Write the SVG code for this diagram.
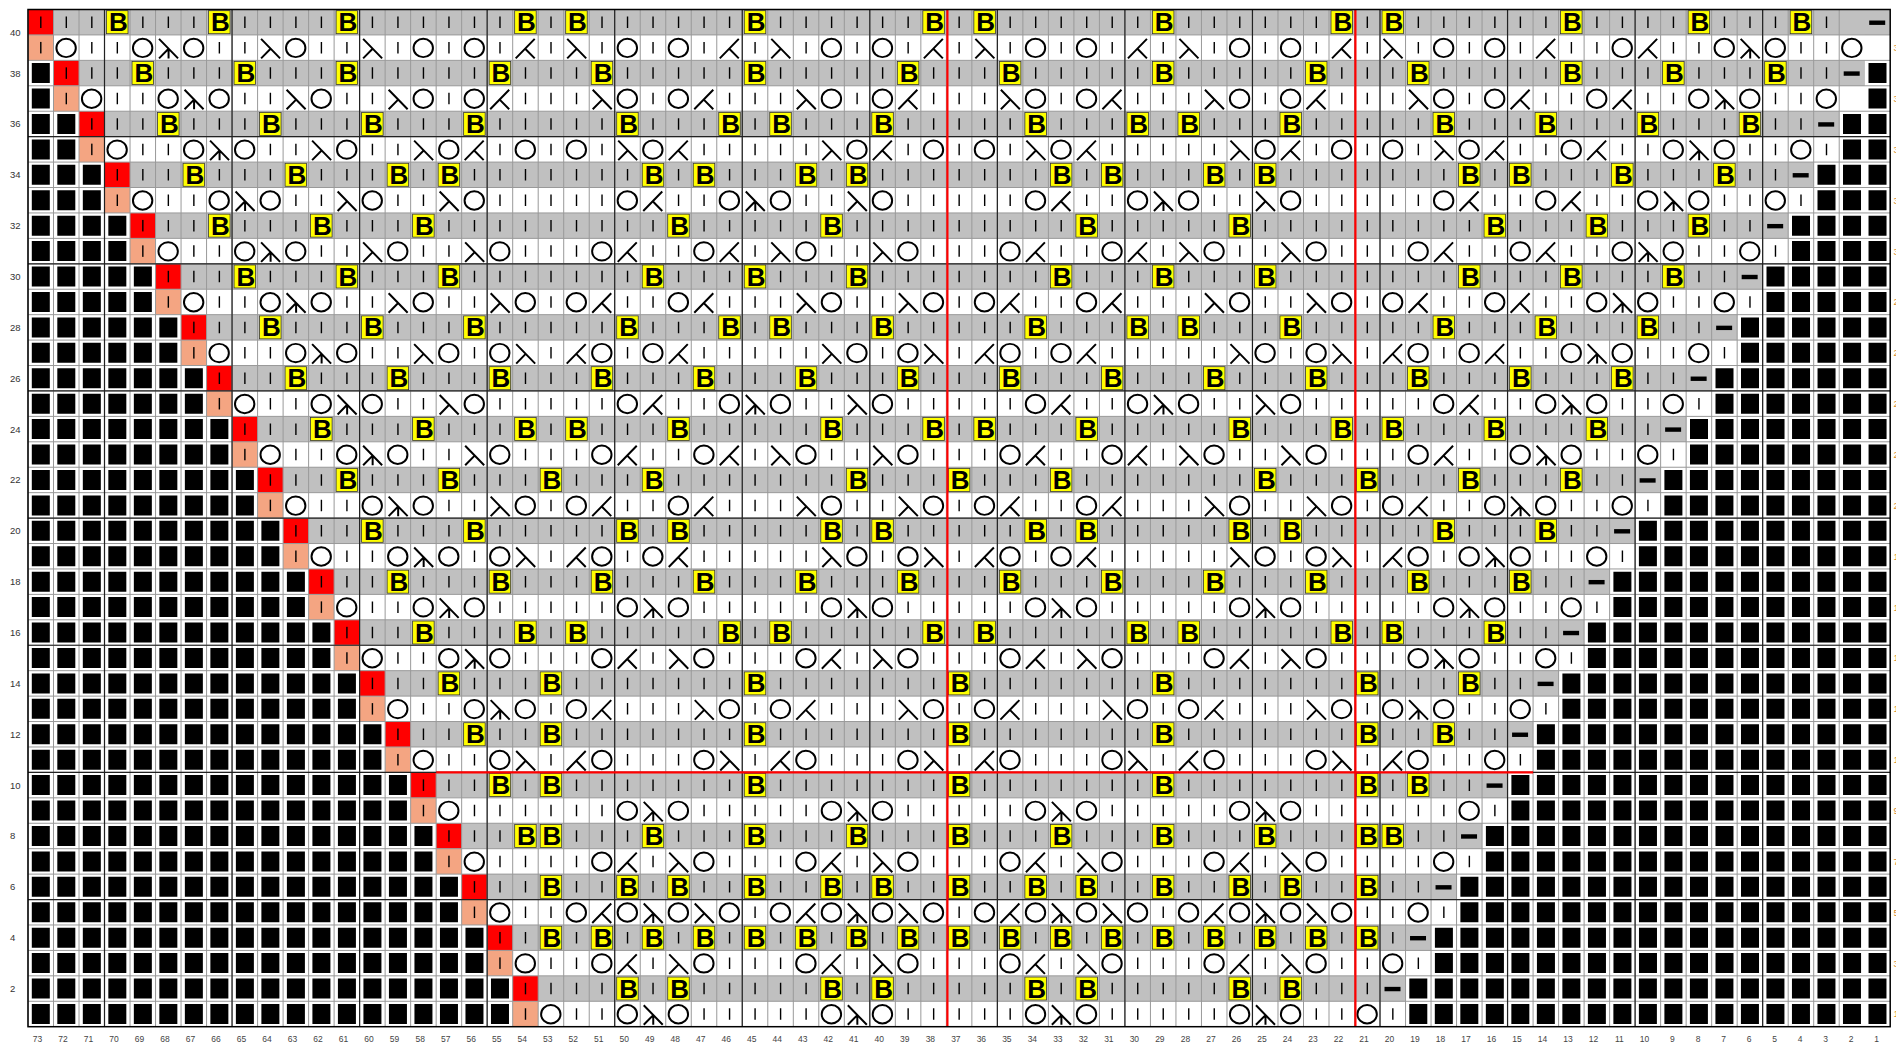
<svg xmlns="http://www.w3.org/2000/svg" width="1896" height="1043" viewBox="0 0 1896 1043">
<style>
.lab{font-family:"Liberation Sans",Arial,sans-serif;font-size:9.5px;fill:#333}
.col{font-family:"Liberation Sans",Arial,sans-serif;font-size:8.5px;fill:#444;text-anchor:end}
.rl{font-family:"Liberation Sans",Arial,sans-serif;font-size:9.5px;fill:#d98c2b}
.sy{fill:none;stroke:#000;stroke-width:0.078}
</style>
<defs>
<g id="o"><rect width="1" height="1" fill="#fff"/><ellipse cx="0.494" cy="0.511" rx="0.38" ry="0.362" class="sy"/></g>
<g id="l"><rect width="1" height="1" fill="#fff"/><path d="M0.137 0.157L0.882 0.924M0.51 0.543L0.137 0.924" class="sy"/></g>
<g id="k"><rect width="1" height="1" fill="#fff"/><path d="M0.863 0.157L0.118 0.924M0.49 0.543L0.863 0.924" class="sy"/></g>
<g id="c"><rect width="1" height="1" fill="#fff"/><path d="M0.137 0.157L0.882 0.924M0.51 0.543L0.137 0.924M0.51 0.543V0.924" class="sy"/></g>
<g id="b"><rect x="0.078" y="0.047" width="0.843" height="0.905" fill="#ff0" stroke="#333" stroke-width="0.03"/><text transform="scale(0.0392,0.03932)" x="13.8" y="21.7" font-family="'Liberation Sans',Arial,sans-serif" font-weight="bold" font-size="26" text-anchor="middle">B</text></g>
<g id="d"><rect width="1" height="1" fill="#c0c0c0"/><rect x="0.176" y="0.433" width="0.627" height="0.173"/></g>
<g id="r"><rect width="1" height="1" fill="#f00"/><rect x="0.474" y="0.275" width="0.055" height="0.452"/></g>
<g id="s"><rect width="1" height="1" fill="#f4a582"/><rect x="0.474" y="0.275" width="0.055" height="0.452"/></g>
</defs>
<rect width="1896" height="1043" fill="#fff"/>
<path id="grayrows" fill="none" stroke="#c0c0c0" stroke-width="25.43" d="M28 22.2H1890.2M53.5 73.1H1864.7M79 123.9H1839.2M104.5 174.8H1813.7M130 225.7H1788.2M155.6 276.5H1762.7M181.1 327.4H1737.2M206.6 378.2H1711.7M232.1 429.1H1686.2M257.6 480H1660.6M283.1 530.8H1635.1M308.6 581.7H1609.6M334.1 632.5H1584.1M359.6 683.4H1558.6M385.1 734.3H1533.1M410.7 785.1H1507.6M436.2 836H1482.1M461.7 886.8H1456.6M487.2 937.7H1431.1M512.7 988.6H1405.5"/>
<path id="knitbars" fill="none" stroke="#000" stroke-width="1.4" stroke-dasharray="11.5 13.93" d="M40.8 16.5v1011m25.51-1011v1011m25.51-1011v1011m25.51-1011v1011m25.51-1011v1011m25.51-1011v1011m25.51-1011v1011m25.51-1011v1011m25.51-1011v1011m25.51-1011v1011m25.51-1011v1011m25.51-1011v1011m25.51-1011v1011m25.51-1011v1011m25.51-1011v1011m25.51-1011v1011m25.51-1011v1011m25.51-1011v1011m25.51-1011v1011m25.51-1011v1011m25.51-1011v1011m25.51-1011v1011m25.51-1011v1011m25.51-1011v1011m25.51-1011v1011m25.51-1011v1011m25.51-1011v1011m25.51-1011v1011m25.51-1011v1011m25.51-1011v1011m25.51-1011v1011m25.51-1011v1011m25.51-1011v1011m25.51-1011v1011m25.51-1011v1011m25.51-1011v1011m25.51-1011v1011m25.51-1011v1011m25.51-1011v1011m25.51-1011v1011m25.51-1011v1011m25.51-1011v1011m25.51-1011v1011m25.51-1011v1011m25.51-1011v1011m25.51-1011v1011m25.51-1011v1011m25.51-1011v1011m25.51-1011v1011m25.51-1011v1011m25.51-1011v1011m25.51-1011v1011m25.51-1011v1011m25.51-1011v1011m25.51-1011v1011m25.51-1011v1011m25.51-1011v1011m25.51-1011v1011m25.51-1011v1011m25.51-1011v1011m25.51-1011v1011m25.51-1011v1011m25.51-1011v1011m25.51-1011v1011m25.51-1011v1011m25.51-1011v1011m25.51-1011v1011m25.51-1011v1011m25.51-1011v1011m25.51-1011v1011m25.51-1011v1011"/>
<path id="blackcells" fill="none" stroke="#000" stroke-width="20" stroke-dasharray="18 7.51" d="M31.8 73.1H53.5M1868.5 73.1H1890.2M31.8 98.5H53.5M1868.5 98.5H1890.2M31.8 123.9H79M1843 123.9H1890.2M31.8 149.4H79M1843 149.4H1890.2M31.8 174.8H104.5M1817.5 174.8H1890.2M31.8 200.2H104.5M1817.5 200.2H1890.2M31.8 225.7H130M1792 225.7H1890.2M31.8 251.1H130M1792 251.1H1890.2M31.8 276.5H155.6M1766.5 276.5H1890.2M31.8 301.9H155.6M1766.5 301.9H1890.2M31.8 327.4H181.1M1741 327.4H1890.2M31.8 352.8H181.1M1741 352.8H1890.2M31.8 378.2H206.6M1715.5 378.2H1890.2M31.8 403.7H206.6M1715.5 403.7H1890.2M31.8 429.1H232.1M1690 429.1H1890.2M31.8 454.5H232.1M1690 454.5H1890.2M31.8 480H257.6M1664.4 480H1890.2M31.8 505.4H257.6M1664.4 505.4H1890.2M31.8 530.8H283.1M1638.9 530.8H1890.2M31.8 556.2H283.1M1638.9 556.2H1890.2M31.8 581.7H308.6M1613.4 581.7H1890.2M31.8 607.1H308.6M1613.4 607.1H1890.2M31.8 632.5H334.1M1587.9 632.5H1890.2M31.8 658H334.1M1587.9 658H1890.2M31.8 683.4H359.6M1562.4 683.4H1890.2M31.8 708.8H359.6M1562.4 708.8H1890.2M31.8 734.3H385.1M1536.9 734.3H1890.2M31.8 759.7H385.1M1536.9 759.7H1890.2M31.8 785.1H410.7M1511.4 785.1H1890.2M31.8 810.5H410.7M1511.4 810.5H1890.2M31.8 836H436.2M1485.9 836H1890.2M31.8 861.4H436.2M1485.9 861.4H1890.2M31.8 886.8H461.7M1460.4 886.8H1890.2M31.8 912.3H461.7M1460.4 912.3H1890.2M31.8 937.7H487.2M1434.9 937.7H1890.2M31.8 963.1H487.2M1434.9 963.1H1890.2M31.8 988.6H512.7M1409.3 988.6H1890.2M31.8 1014H512.7M1409.3 1014H1890.2"/>
<g id="cells" transform="matrix(25.51 0 0 25.43 28 9.5)">
<g id="row40"><use href="#r" x="0"/><use href="#b" x="3"/><use href="#b" x="7"/><use href="#b" x="12"/><use href="#b" x="19"/><use href="#b" x="21"/><use href="#b" x="28"/><use href="#b" x="35"/><use href="#b" x="37"/><use href="#b" x="44"/><use href="#b" x="51"/><use href="#b" x="53"/><use href="#b" x="60"/><use href="#b" x="65"/><use href="#b" x="69"/><use href="#d" x="72"/></g>
<g id="row39" transform="translate(0,1)"><use href="#s" x="0"/><use href="#o" x="1"/><use href="#o" x="4"/><use href="#c" x="5"/><use href="#o" x="6"/><use href="#l" x="9"/><use href="#o" x="10"/><use href="#l" x="13"/><use href="#o" x="15"/><use href="#o" x="17"/><use href="#k" x="19"/><use href="#l" x="21"/><use href="#o" x="23"/><use href="#o" x="25"/><use href="#k" x="27"/><use href="#l" x="29"/><use href="#o" x="31"/><use href="#o" x="33"/><use href="#k" x="35"/><use href="#l" x="37"/><use href="#o" x="39"/><use href="#o" x="41"/><use href="#k" x="43"/><use href="#l" x="45"/><use href="#o" x="47"/><use href="#o" x="49"/><use href="#k" x="51"/><use href="#l" x="53"/><use href="#o" x="55"/><use href="#o" x="57"/><use href="#k" x="59"/><use href="#o" x="62"/><use href="#k" x="63"/><use href="#o" x="66"/><use href="#c" x="67"/><use href="#o" x="68"/><use href="#o" x="71"/></g>
<g id="row38" transform="translate(0,2)"><use href="#r" x="1"/><use href="#b" x="4"/><use href="#b" x="8"/><use href="#b" x="12"/><use href="#b" x="18"/><use href="#b" x="22"/><use href="#b" x="28"/><use href="#b" x="34"/><use href="#b" x="38"/><use href="#b" x="44"/><use href="#b" x="50"/><use href="#b" x="54"/><use href="#b" x="60"/><use href="#b" x="64"/><use href="#b" x="68"/><use href="#d" x="71"/></g>
<g id="row37" transform="translate(0,3)"><use href="#s" x="1"/><use href="#o" x="2"/><use href="#o" x="5"/><use href="#c" x="6"/><use href="#o" x="7"/><use href="#l" x="10"/><use href="#o" x="11"/><use href="#l" x="14"/><use href="#o" x="15"/><use href="#o" x="17"/><use href="#k" x="18"/><use href="#l" x="22"/><use href="#o" x="23"/><use href="#o" x="25"/><use href="#k" x="26"/><use href="#l" x="30"/><use href="#o" x="31"/><use href="#o" x="33"/><use href="#k" x="34"/><use href="#l" x="38"/><use href="#o" x="39"/><use href="#o" x="41"/><use href="#k" x="42"/><use href="#l" x="46"/><use href="#o" x="47"/><use href="#o" x="49"/><use href="#k" x="50"/><use href="#l" x="54"/><use href="#o" x="55"/><use href="#o" x="57"/><use href="#k" x="58"/><use href="#o" x="61"/><use href="#k" x="62"/><use href="#o" x="65"/><use href="#c" x="66"/><use href="#o" x="67"/><use href="#o" x="70"/></g>
<g id="row36" transform="translate(0,4)"><use href="#r" x="2"/><use href="#b" x="5"/><use href="#b" x="9"/><use href="#b" x="13"/><use href="#b" x="17"/><use href="#b" x="23"/><use href="#b" x="27"/><use href="#b" x="29"/><use href="#b" x="33"/><use href="#b" x="39"/><use href="#b" x="43"/><use href="#b" x="45"/><use href="#b" x="49"/><use href="#b" x="55"/><use href="#b" x="59"/><use href="#b" x="63"/><use href="#b" x="67"/><use href="#d" x="70"/></g>
<g id="row35" transform="translate(0,5)"><use href="#s" x="2"/><use href="#o" x="3"/><use href="#o" x="6"/><use href="#c" x="7"/><use href="#o" x="8"/><use href="#l" x="11"/><use href="#o" x="12"/><use href="#l" x="15"/><use href="#o" x="16"/><use href="#k" x="17"/><use href="#o" x="19"/><use href="#o" x="21"/><use href="#l" x="23"/><use href="#o" x="24"/><use href="#k" x="25"/><use href="#l" x="31"/><use href="#o" x="32"/><use href="#k" x="33"/><use href="#o" x="35"/><use href="#o" x="37"/><use href="#l" x="39"/><use href="#o" x="40"/><use href="#k" x="41"/><use href="#l" x="47"/><use href="#o" x="48"/><use href="#k" x="49"/><use href="#o" x="51"/><use href="#o" x="53"/><use href="#l" x="55"/><use href="#o" x="56"/><use href="#k" x="57"/><use href="#o" x="60"/><use href="#k" x="61"/><use href="#o" x="64"/><use href="#c" x="65"/><use href="#o" x="66"/><use href="#o" x="69"/></g>
<g id="row34" transform="translate(0,6)"><use href="#r" x="3"/><use href="#b" x="6"/><use href="#b" x="10"/><use href="#b" x="14"/><use href="#b" x="16"/><use href="#b" x="24"/><use href="#b" x="26"/><use href="#b" x="30"/><use href="#b" x="32"/><use href="#b" x="40"/><use href="#b" x="42"/><use href="#b" x="46"/><use href="#b" x="48"/><use href="#b" x="56"/><use href="#b" x="58"/><use href="#b" x="62"/><use href="#b" x="66"/><use href="#d" x="69"/></g>
<g id="row33" transform="translate(0,7)"><use href="#s" x="3"/><use href="#o" x="4"/><use href="#o" x="7"/><use href="#c" x="8"/><use href="#o" x="9"/><use href="#l" x="12"/><use href="#o" x="13"/><use href="#l" x="16"/><use href="#o" x="17"/><use href="#o" x="23"/><use href="#k" x="24"/><use href="#o" x="27"/><use href="#c" x="28"/><use href="#o" x="29"/><use href="#l" x="32"/><use href="#o" x="33"/><use href="#o" x="39"/><use href="#k" x="40"/><use href="#o" x="43"/><use href="#c" x="44"/><use href="#o" x="45"/><use href="#l" x="48"/><use href="#o" x="49"/><use href="#o" x="55"/><use href="#k" x="56"/><use href="#o" x="59"/><use href="#k" x="60"/><use href="#o" x="63"/><use href="#c" x="64"/><use href="#o" x="65"/><use href="#o" x="68"/></g>
<g id="row32" transform="translate(0,8)"><use href="#r" x="4"/><use href="#b" x="7"/><use href="#b" x="11"/><use href="#b" x="15"/><use href="#b" x="25"/><use href="#b" x="31"/><use href="#b" x="41"/><use href="#b" x="47"/><use href="#b" x="57"/><use href="#b" x="61"/><use href="#b" x="65"/><use href="#d" x="68"/></g>
<g id="row31" transform="translate(0,9)"><use href="#s" x="4"/><use href="#o" x="5"/><use href="#o" x="8"/><use href="#c" x="9"/><use href="#o" x="10"/><use href="#l" x="13"/><use href="#o" x="14"/><use href="#l" x="17"/><use href="#o" x="18"/><use href="#o" x="22"/><use href="#k" x="23"/><use href="#o" x="26"/><use href="#k" x="27"/><use href="#l" x="29"/><use href="#o" x="30"/><use href="#l" x="33"/><use href="#o" x="34"/><use href="#o" x="38"/><use href="#k" x="39"/><use href="#o" x="42"/><use href="#k" x="43"/><use href="#l" x="45"/><use href="#o" x="46"/><use href="#l" x="49"/><use href="#o" x="50"/><use href="#o" x="54"/><use href="#k" x="55"/><use href="#o" x="58"/><use href="#k" x="59"/><use href="#o" x="62"/><use href="#c" x="63"/><use href="#o" x="64"/><use href="#o" x="67"/></g>
<g id="row30" transform="translate(0,10)"><use href="#r" x="5"/><use href="#b" x="8"/><use href="#b" x="12"/><use href="#b" x="16"/><use href="#b" x="24"/><use href="#b" x="28"/><use href="#b" x="32"/><use href="#b" x="40"/><use href="#b" x="44"/><use href="#b" x="48"/><use href="#b" x="56"/><use href="#b" x="60"/><use href="#b" x="64"/><use href="#d" x="67"/></g>
<g id="row29" transform="translate(0,11)"><use href="#s" x="5"/><use href="#o" x="6"/><use href="#o" x="9"/><use href="#c" x="10"/><use href="#o" x="11"/><use href="#l" x="14"/><use href="#o" x="15"/><use href="#l" x="18"/><use href="#o" x="19"/><use href="#o" x="21"/><use href="#k" x="22"/><use href="#o" x="25"/><use href="#k" x="26"/><use href="#l" x="30"/><use href="#o" x="31"/><use href="#l" x="34"/><use href="#o" x="35"/><use href="#o" x="37"/><use href="#k" x="38"/><use href="#o" x="41"/><use href="#k" x="42"/><use href="#l" x="46"/><use href="#o" x="47"/><use href="#l" x="50"/><use href="#o" x="51"/><use href="#o" x="53"/><use href="#k" x="54"/><use href="#o" x="57"/><use href="#k" x="58"/><use href="#o" x="61"/><use href="#c" x="62"/><use href="#o" x="63"/><use href="#o" x="66"/></g>
<g id="row28" transform="translate(0,12)"><use href="#r" x="6"/><use href="#b" x="9"/><use href="#b" x="13"/><use href="#b" x="17"/><use href="#b" x="23"/><use href="#b" x="27"/><use href="#b" x="29"/><use href="#b" x="33"/><use href="#b" x="39"/><use href="#b" x="43"/><use href="#b" x="45"/><use href="#b" x="49"/><use href="#b" x="55"/><use href="#b" x="59"/><use href="#b" x="63"/><use href="#d" x="66"/></g>
<g id="row27" transform="translate(0,13)"><use href="#s" x="6"/><use href="#o" x="7"/><use href="#o" x="10"/><use href="#c" x="11"/><use href="#o" x="12"/><use href="#l" x="15"/><use href="#o" x="16"/><use href="#o" x="18"/><use href="#l" x="19"/><use href="#k" x="21"/><use href="#o" x="22"/><use href="#o" x="24"/><use href="#k" x="25"/><use href="#l" x="31"/><use href="#o" x="32"/><use href="#o" x="34"/><use href="#l" x="35"/><use href="#k" x="37"/><use href="#o" x="38"/><use href="#o" x="40"/><use href="#k" x="41"/><use href="#l" x="47"/><use href="#o" x="48"/><use href="#o" x="50"/><use href="#l" x="51"/><use href="#k" x="53"/><use href="#o" x="54"/><use href="#o" x="56"/><use href="#k" x="57"/><use href="#o" x="60"/><use href="#c" x="61"/><use href="#o" x="62"/><use href="#o" x="65"/></g>
<g id="row26" transform="translate(0,14)"><use href="#r" x="7"/><use href="#b" x="10"/><use href="#b" x="14"/><use href="#b" x="18"/><use href="#b" x="22"/><use href="#b" x="26"/><use href="#b" x="30"/><use href="#b" x="34"/><use href="#b" x="38"/><use href="#b" x="42"/><use href="#b" x="46"/><use href="#b" x="50"/><use href="#b" x="54"/><use href="#b" x="58"/><use href="#b" x="62"/><use href="#d" x="65"/></g>
<g id="row25" transform="translate(0,15)"><use href="#s" x="7"/><use href="#o" x="8"/><use href="#o" x="11"/><use href="#c" x="12"/><use href="#o" x="13"/><use href="#l" x="16"/><use href="#o" x="17"/><use href="#o" x="23"/><use href="#k" x="24"/><use href="#o" x="27"/><use href="#c" x="28"/><use href="#o" x="29"/><use href="#l" x="32"/><use href="#o" x="33"/><use href="#o" x="39"/><use href="#k" x="40"/><use href="#o" x="43"/><use href="#c" x="44"/><use href="#o" x="45"/><use href="#l" x="48"/><use href="#o" x="49"/><use href="#o" x="55"/><use href="#k" x="56"/><use href="#o" x="59"/><use href="#c" x="60"/><use href="#o" x="61"/><use href="#o" x="64"/></g>
<g id="row24" transform="translate(0,16)"><use href="#r" x="8"/><use href="#b" x="11"/><use href="#b" x="15"/><use href="#b" x="19"/><use href="#b" x="21"/><use href="#b" x="25"/><use href="#b" x="31"/><use href="#b" x="35"/><use href="#b" x="37"/><use href="#b" x="41"/><use href="#b" x="47"/><use href="#b" x="51"/><use href="#b" x="53"/><use href="#b" x="57"/><use href="#b" x="61"/><use href="#d" x="64"/></g>
<g id="row23" transform="translate(0,17)"><use href="#s" x="8"/><use href="#o" x="9"/><use href="#o" x="12"/><use href="#c" x="13"/><use href="#o" x="14"/><use href="#l" x="17"/><use href="#o" x="18"/><use href="#o" x="22"/><use href="#k" x="23"/><use href="#o" x="26"/><use href="#k" x="27"/><use href="#l" x="29"/><use href="#o" x="30"/><use href="#l" x="33"/><use href="#o" x="34"/><use href="#o" x="38"/><use href="#k" x="39"/><use href="#o" x="42"/><use href="#k" x="43"/><use href="#l" x="45"/><use href="#o" x="46"/><use href="#l" x="49"/><use href="#o" x="50"/><use href="#o" x="54"/><use href="#k" x="55"/><use href="#o" x="58"/><use href="#c" x="59"/><use href="#o" x="60"/><use href="#o" x="63"/></g>
<g id="row22" transform="translate(0,18)"><use href="#r" x="9"/><use href="#b" x="12"/><use href="#b" x="16"/><use href="#b" x="20"/><use href="#b" x="24"/><use href="#b" x="32"/><use href="#b" x="36"/><use href="#b" x="40"/><use href="#b" x="48"/><use href="#b" x="52"/><use href="#b" x="56"/><use href="#b" x="60"/><use href="#d" x="63"/></g>
<g id="row21" transform="translate(0,19)"><use href="#s" x="9"/><use href="#o" x="10"/><use href="#o" x="13"/><use href="#c" x="14"/><use href="#o" x="15"/><use href="#l" x="18"/><use href="#o" x="19"/><use href="#o" x="21"/><use href="#k" x="22"/><use href="#o" x="25"/><use href="#k" x="26"/><use href="#l" x="30"/><use href="#o" x="31"/><use href="#l" x="34"/><use href="#o" x="35"/><use href="#o" x="37"/><use href="#k" x="38"/><use href="#o" x="41"/><use href="#k" x="42"/><use href="#l" x="46"/><use href="#o" x="47"/><use href="#l" x="50"/><use href="#o" x="51"/><use href="#o" x="53"/><use href="#k" x="54"/><use href="#o" x="57"/><use href="#c" x="58"/><use href="#o" x="59"/><use href="#o" x="62"/></g>
<g id="row20" transform="translate(0,20)"><use href="#r" x="10"/><use href="#b" x="13"/><use href="#b" x="17"/><use href="#b" x="23"/><use href="#b" x="25"/><use href="#b" x="31"/><use href="#b" x="33"/><use href="#b" x="39"/><use href="#b" x="41"/><use href="#b" x="47"/><use href="#b" x="49"/><use href="#b" x="55"/><use href="#b" x="59"/><use href="#d" x="62"/></g>
<g id="row19" transform="translate(0,21)"><use href="#s" x="10"/><use href="#o" x="11"/><use href="#o" x="14"/><use href="#c" x="15"/><use href="#o" x="16"/><use href="#o" x="18"/><use href="#l" x="19"/><use href="#k" x="21"/><use href="#o" x="22"/><use href="#o" x="24"/><use href="#k" x="25"/><use href="#l" x="31"/><use href="#o" x="32"/><use href="#o" x="34"/><use href="#l" x="35"/><use href="#k" x="37"/><use href="#o" x="38"/><use href="#o" x="40"/><use href="#k" x="41"/><use href="#l" x="47"/><use href="#o" x="48"/><use href="#o" x="50"/><use href="#l" x="51"/><use href="#k" x="53"/><use href="#o" x="54"/><use href="#o" x="56"/><use href="#c" x="57"/><use href="#o" x="58"/><use href="#o" x="61"/></g>
<g id="row18" transform="translate(0,22)"><use href="#r" x="11"/><use href="#b" x="14"/><use href="#b" x="18"/><use href="#b" x="22"/><use href="#b" x="26"/><use href="#b" x="30"/><use href="#b" x="34"/><use href="#b" x="38"/><use href="#b" x="42"/><use href="#b" x="46"/><use href="#b" x="50"/><use href="#b" x="54"/><use href="#b" x="58"/><use href="#d" x="61"/></g>
<g id="row17" transform="translate(0,23)"><use href="#s" x="11"/><use href="#o" x="12"/><use href="#o" x="15"/><use href="#c" x="16"/><use href="#o" x="17"/><use href="#o" x="23"/><use href="#c" x="24"/><use href="#o" x="25"/><use href="#o" x="31"/><use href="#c" x="32"/><use href="#o" x="33"/><use href="#o" x="39"/><use href="#c" x="40"/><use href="#o" x="41"/><use href="#o" x="47"/><use href="#c" x="48"/><use href="#o" x="49"/><use href="#o" x="55"/><use href="#c" x="56"/><use href="#o" x="57"/><use href="#o" x="60"/></g>
<g id="row16" transform="translate(0,24)"><use href="#r" x="12"/><use href="#b" x="15"/><use href="#b" x="19"/><use href="#b" x="21"/><use href="#b" x="27"/><use href="#b" x="29"/><use href="#b" x="35"/><use href="#b" x="37"/><use href="#b" x="43"/><use href="#b" x="45"/><use href="#b" x="51"/><use href="#b" x="53"/><use href="#b" x="57"/><use href="#d" x="60"/></g>
<g id="row15" transform="translate(0,25)"><use href="#s" x="12"/><use href="#o" x="13"/><use href="#o" x="16"/><use href="#c" x="17"/><use href="#o" x="18"/><use href="#o" x="22"/><use href="#k" x="23"/><use href="#l" x="25"/><use href="#o" x="26"/><use href="#o" x="30"/><use href="#k" x="31"/><use href="#l" x="33"/><use href="#o" x="34"/><use href="#o" x="38"/><use href="#k" x="39"/><use href="#l" x="41"/><use href="#o" x="42"/><use href="#o" x="46"/><use href="#k" x="47"/><use href="#l" x="49"/><use href="#o" x="50"/><use href="#o" x="54"/><use href="#c" x="55"/><use href="#o" x="56"/><use href="#o" x="59"/></g>
<g id="row14" transform="translate(0,26)"><use href="#r" x="13"/><use href="#b" x="16"/><use href="#b" x="20"/><use href="#b" x="28"/><use href="#b" x="36"/><use href="#b" x="44"/><use href="#b" x="52"/><use href="#b" x="56"/><use href="#d" x="59"/></g>
<g id="row13" transform="translate(0,27)"><use href="#s" x="13"/><use href="#o" x="14"/><use href="#o" x="17"/><use href="#c" x="18"/><use href="#o" x="19"/><use href="#o" x="21"/><use href="#k" x="22"/><use href="#l" x="26"/><use href="#o" x="27"/><use href="#o" x="29"/><use href="#k" x="30"/><use href="#l" x="34"/><use href="#o" x="35"/><use href="#o" x="37"/><use href="#k" x="38"/><use href="#l" x="42"/><use href="#o" x="43"/><use href="#o" x="45"/><use href="#k" x="46"/><use href="#l" x="50"/><use href="#o" x="51"/><use href="#o" x="53"/><use href="#c" x="54"/><use href="#o" x="55"/><use href="#o" x="58"/></g>
<g id="row12" transform="translate(0,28)"><use href="#r" x="14"/><use href="#b" x="17"/><use href="#b" x="20"/><use href="#b" x="28"/><use href="#b" x="36"/><use href="#b" x="44"/><use href="#b" x="52"/><use href="#b" x="55"/><use href="#d" x="58"/></g>
<g id="row11" transform="translate(0,29)"><use href="#s" x="14"/><use href="#o" x="15"/><use href="#o" x="18"/><use href="#l" x="19"/><use href="#k" x="21"/><use href="#o" x="22"/><use href="#o" x="26"/><use href="#l" x="27"/><use href="#k" x="29"/><use href="#o" x="30"/><use href="#o" x="34"/><use href="#l" x="35"/><use href="#k" x="37"/><use href="#o" x="38"/><use href="#o" x="42"/><use href="#l" x="43"/><use href="#k" x="45"/><use href="#o" x="46"/><use href="#o" x="50"/><use href="#l" x="51"/><use href="#k" x="53"/><use href="#o" x="54"/><use href="#o" x="57"/></g>
<g id="row10" transform="translate(0,30)"><use href="#r" x="15"/><use href="#b" x="18"/><use href="#b" x="20"/><use href="#b" x="28"/><use href="#b" x="36"/><use href="#b" x="44"/><use href="#b" x="52"/><use href="#b" x="54"/><use href="#d" x="57"/></g>
<g id="row9" transform="translate(0,31)"><use href="#s" x="15"/><use href="#o" x="16"/><use href="#o" x="23"/><use href="#c" x="24"/><use href="#o" x="25"/><use href="#o" x="31"/><use href="#c" x="32"/><use href="#o" x="33"/><use href="#o" x="39"/><use href="#c" x="40"/><use href="#o" x="41"/><use href="#o" x="47"/><use href="#c" x="48"/><use href="#o" x="49"/><use href="#o" x="56"/></g>
<g id="row8" transform="translate(0,32)"><use href="#r" x="16"/><use href="#b" x="19"/><use href="#b" x="20"/><use href="#b" x="24"/><use href="#b" x="28"/><use href="#b" x="32"/><use href="#b" x="36"/><use href="#b" x="40"/><use href="#b" x="44"/><use href="#b" x="48"/><use href="#b" x="52"/><use href="#b" x="53"/><use href="#d" x="56"/></g>
<g id="row7" transform="translate(0,33)"><use href="#s" x="16"/><use href="#o" x="17"/><use href="#o" x="22"/><use href="#k" x="23"/><use href="#l" x="25"/><use href="#o" x="26"/><use href="#o" x="30"/><use href="#k" x="31"/><use href="#l" x="33"/><use href="#o" x="34"/><use href="#o" x="38"/><use href="#k" x="39"/><use href="#l" x="41"/><use href="#o" x="42"/><use href="#o" x="46"/><use href="#k" x="47"/><use href="#l" x="49"/><use href="#o" x="50"/><use href="#o" x="55"/></g>
<g id="row6" transform="translate(0,34)"><use href="#r" x="17"/><use href="#b" x="20"/><use href="#b" x="23"/><use href="#b" x="25"/><use href="#b" x="28"/><use href="#b" x="31"/><use href="#b" x="33"/><use href="#b" x="36"/><use href="#b" x="39"/><use href="#b" x="41"/><use href="#b" x="44"/><use href="#b" x="47"/><use href="#b" x="49"/><use href="#b" x="52"/><use href="#d" x="55"/></g>
<g id="row5" transform="translate(0,35)"><use href="#s" x="17"/><use href="#o" x="18"/><use href="#o" x="21"/><use href="#k" x="22"/><use href="#o" x="23"/><use href="#c" x="24"/><use href="#o" x="25"/><use href="#l" x="26"/><use href="#o" x="27"/><use href="#o" x="29"/><use href="#k" x="30"/><use href="#o" x="31"/><use href="#c" x="32"/><use href="#o" x="33"/><use href="#l" x="34"/><use href="#o" x="35"/><use href="#o" x="37"/><use href="#k" x="38"/><use href="#o" x="39"/><use href="#c" x="40"/><use href="#o" x="41"/><use href="#l" x="42"/><use href="#o" x="43"/><use href="#o" x="45"/><use href="#k" x="46"/><use href="#o" x="47"/><use href="#c" x="48"/><use href="#o" x="49"/><use href="#l" x="50"/><use href="#o" x="51"/><use href="#o" x="54"/></g>
<g id="row4" transform="translate(0,36)"><use href="#r" x="18"/><use href="#b" x="20"/><use href="#b" x="22"/><use href="#b" x="24"/><use href="#b" x="26"/><use href="#b" x="28"/><use href="#b" x="30"/><use href="#b" x="32"/><use href="#b" x="34"/><use href="#b" x="36"/><use href="#b" x="38"/><use href="#b" x="40"/><use href="#b" x="42"/><use href="#b" x="44"/><use href="#b" x="46"/><use href="#b" x="48"/><use href="#b" x="50"/><use href="#b" x="52"/><use href="#d" x="54"/></g>
<g id="row3" transform="translate(0,37)"><use href="#s" x="18"/><use href="#o" x="19"/><use href="#o" x="22"/><use href="#k" x="23"/><use href="#l" x="25"/><use href="#o" x="26"/><use href="#o" x="30"/><use href="#k" x="31"/><use href="#l" x="33"/><use href="#o" x="34"/><use href="#o" x="38"/><use href="#k" x="39"/><use href="#l" x="41"/><use href="#o" x="42"/><use href="#o" x="46"/><use href="#k" x="47"/><use href="#l" x="49"/><use href="#o" x="50"/><use href="#o" x="53"/></g>
<g id="row2" transform="translate(0,38)"><use href="#r" x="19"/><use href="#b" x="23"/><use href="#b" x="25"/><use href="#b" x="31"/><use href="#b" x="33"/><use href="#b" x="39"/><use href="#b" x="41"/><use href="#b" x="47"/><use href="#b" x="49"/><use href="#d" x="53"/></g>
<g id="row1" transform="translate(0,39)"><use href="#s" x="19"/><use href="#o" x="20"/><use href="#o" x="23"/><use href="#c" x="24"/><use href="#o" x="25"/><use href="#o" x="31"/><use href="#c" x="32"/><use href="#o" x="33"/><use href="#o" x="39"/><use href="#c" x="40"/><use href="#o" x="41"/><use href="#o" x="47"/><use href="#c" x="48"/><use href="#o" x="49"/><use href="#o" x="52"/></g>
</g>
<path id="grid" fill="none" stroke="#999" stroke-width="1" d="M28 9.5v1017.2m25.51-1017.2v1017.2m25.51-1017.2v1017.2m25.51-1017.2v1017.2m25.51-1017.2v1017.2m25.51-1017.2v1017.2m25.51-1017.2v1017.2m25.51-1017.2v1017.2m25.51-1017.2v1017.2m25.51-1017.2v1017.2m25.51-1017.2v1017.2m25.51-1017.2v1017.2m25.51-1017.2v1017.2m25.51-1017.2v1017.2m25.51-1017.2v1017.2m25.51-1017.2v1017.2m25.51-1017.2v1017.2m25.51-1017.2v1017.2m25.51-1017.2v1017.2m25.51-1017.2v1017.2m25.51-1017.2v1017.2m25.51-1017.2v1017.2m25.51-1017.2v1017.2m25.51-1017.2v1017.2m25.51-1017.2v1017.2m25.51-1017.2v1017.2m25.51-1017.2v1017.2m25.51-1017.2v1017.2m25.51-1017.2v1017.2m25.51-1017.2v1017.2m25.51-1017.2v1017.2m25.51-1017.2v1017.2m25.51-1017.2v1017.2m25.51-1017.2v1017.2m25.51-1017.2v1017.2m25.51-1017.2v1017.2m25.51-1017.2v1017.2m25.51-1017.2v1017.2m25.51-1017.2v1017.2m25.51-1017.2v1017.2m25.51-1017.2v1017.2m25.51-1017.2v1017.2m25.51-1017.2v1017.2m25.51-1017.2v1017.2m25.51-1017.2v1017.2m25.51-1017.2v1017.2m25.51-1017.2v1017.2m25.51-1017.2v1017.2m25.51-1017.2v1017.2m25.51-1017.2v1017.2m25.51-1017.2v1017.2m25.51-1017.2v1017.2m25.51-1017.2v1017.2m25.51-1017.2v1017.2m25.51-1017.2v1017.2m25.51-1017.2v1017.2m25.51-1017.2v1017.2m25.51-1017.2v1017.2m25.51-1017.2v1017.2m25.51-1017.2v1017.2m25.51-1017.2v1017.2m25.51-1017.2v1017.2m25.51-1017.2v1017.2m25.51-1017.2v1017.2m25.51-1017.2v1017.2m25.51-1017.2v1017.2m25.51-1017.2v1017.2m25.51-1017.2v1017.2m25.51-1017.2v1017.2m25.51-1017.2v1017.2m25.51-1017.2v1017.2m25.51-1017.2v1017.2M28 9.5h1862.2m-1862.2 25.43h1862.2m-1862.2 25.43h1862.2m-1862.2 25.43h1862.2m-1862.2 25.43h1862.2m-1862.2 25.43h1862.2m-1862.2 25.43h1862.2m-1862.2 25.43h1862.2m-1862.2 25.43h1862.2m-1862.2 25.43h1862.2m-1862.2 25.43h1862.2m-1862.2 25.43h1862.2m-1862.2 25.43h1862.2m-1862.2 25.43h1862.2m-1862.2 25.43h1862.2m-1862.2 25.43h1862.2m-1862.2 25.43h1862.2m-1862.2 25.43h1862.2m-1862.2 25.43h1862.2m-1862.2 25.43h1862.2m-1862.2 25.43h1862.2m-1862.2 25.43h1862.2m-1862.2 25.43h1862.2m-1862.2 25.43h1862.2m-1862.2 25.43h1862.2m-1862.2 25.43h1862.2m-1862.2 25.43h1862.2m-1862.2 25.43h1862.2m-1862.2 25.43h1862.2m-1862.2 25.43h1862.2m-1862.2 25.43h1862.2m-1862.2 25.43h1862.2m-1862.2 25.43h1862.2m-1862.2 25.43h1862.2m-1862.2 25.43h1862.2m-1862.2 25.43h1862.2m-1862.2 25.43h1862.2m-1862.2 25.43h1862.2m-1862.2 25.43h1862.2m-1862.2 25.43h1862.2"/>
<path id="groups" fill="none" stroke="#222" stroke-width="1.2" d="M104.5 9.5v1017.2m127.55-1017.2v1017.2m127.55-1017.2v1017.2m127.55-1017.2v1017.2m127.55-1017.2v1017.2m127.55-1017.2v1017.2m127.55-1017.2v1017.2m127.55-1017.2v1017.2m127.55-1017.2v1017.2m127.55-1017.2v1017.2m127.55-1017.2v1017.2m127.55-1017.2v1017.2m127.55-1017.2v1017.2m127.55-1017.2v1017.2M28 136.65h1862.2m-1862.2 127.15h1862.2m-1862.2 127.15h1862.2m-1862.2 127.15h1862.2m-1862.2 127.15h1862.2m-1862.2 127.15h1862.2m-1862.2 127.15h1862.2"/>
<path id="redlines" fill="none" stroke="#f00" stroke-width="2.2" d="M947.4 9.5V1026.7M1355.4 9.5V1026.7M436.2 772.4H1533.1"/>
<rect x="28" y="9.5" width="1862.2" height="1017.2" fill="none" stroke="#000" stroke-width="1.5"/>
<g id="rowlabels">
<text class="lab" x="10" y="35.7">40</text><text class="lab" x="10" y="76.5">38</text><text class="lab" x="10" y="127.3">36</text><text class="lab" x="10" y="178.2">34</text><text class="lab" x="10" y="229.1">32</text><text class="lab" x="10" y="279.9">30</text><text class="lab" x="10" y="330.8">28</text><text class="lab" x="10" y="381.6">26</text><text class="lab" x="10" y="432.5">24</text><text class="lab" x="10" y="483.4">22</text><text class="lab" x="10" y="534.2">20</text><text class="lab" x="10" y="585.1">18</text><text class="lab" x="10" y="635.9">16</text><text class="lab" x="10" y="686.8">14</text><text class="lab" x="10" y="737.7">12</text><text class="lab" x="10" y="788.5">10</text><text class="lab" x="10" y="839.4">8</text><text class="lab" x="10" y="890.2">6</text><text class="lab" x="10" y="941.1">4</text><text class="lab" x="10" y="992">2</text>
</g>
<g id="rowlabels-right">
<text class="rl" x="1893.5" y="51">39</text><text class="rl" x="1893.5" y="101.9">37</text><text class="rl" x="1893.5" y="152.8">35</text><text class="rl" x="1893.5" y="203.6">33</text><text class="rl" x="1893.5" y="254.5">31</text><text class="rl" x="1893.5" y="305.3">29</text><text class="rl" x="1893.5" y="356.2">27</text><text class="rl" x="1893.5" y="407.1">25</text><text class="rl" x="1893.5" y="457.9">23</text><text class="rl" x="1893.5" y="508.8">21</text><text class="rl" x="1893.5" y="559.6">19</text><text class="rl" x="1893.5" y="610.5">17</text><text class="rl" x="1893.5" y="661.4">15</text><text class="rl" x="1893.5" y="712.2">13</text><text class="rl" x="1893.5" y="763.1">11</text><text class="rl" x="1893.5" y="813.9">9</text><text class="rl" x="1893.5" y="864.8">7</text><text class="rl" x="1893.5" y="915.7">5</text><text class="rl" x="1893.5" y="966.5">3</text><text class="rl" x="1893.5" y="1017.4">1</text>
</g>
<g id="collabels">
<text class="col" x="42.2" y="1042">73</text><text class="col" x="67.7" y="1042">72</text><text class="col" x="93.2" y="1042">71</text><text class="col" x="118.7" y="1042">70</text><text class="col" x="144.2" y="1042">69</text><text class="col" x="169.8" y="1042">68</text><text class="col" x="195.3" y="1042">67</text><text class="col" x="220.8" y="1042">66</text><text class="col" x="246.3" y="1042">65</text><text class="col" x="271.8" y="1042">64</text><text class="col" x="297.3" y="1042">63</text><text class="col" x="322.8" y="1042">62</text><text class="col" x="348.3" y="1042">61</text><text class="col" x="373.8" y="1042">60</text><text class="col" x="399.3" y="1042">59</text><text class="col" x="424.9" y="1042">58</text><text class="col" x="450.4" y="1042">57</text><text class="col" x="475.9" y="1042">56</text><text class="col" x="501.4" y="1042">55</text><text class="col" x="526.9" y="1042">54</text><text class="col" x="552.4" y="1042">53</text><text class="col" x="577.9" y="1042">52</text><text class="col" x="603.4" y="1042">51</text><text class="col" x="628.9" y="1042">50</text><text class="col" x="654.4" y="1042">49</text><text class="col" x="680" y="1042">48</text><text class="col" x="705.5" y="1042">47</text><text class="col" x="731" y="1042">46</text><text class="col" x="756.5" y="1042">45</text><text class="col" x="782" y="1042">44</text><text class="col" x="807.5" y="1042">43</text><text class="col" x="833" y="1042">42</text><text class="col" x="858.5" y="1042">41</text><text class="col" x="884" y="1042">40</text><text class="col" x="909.5" y="1042">39</text><text class="col" x="935.1" y="1042">38</text><text class="col" x="960.6" y="1042">37</text><text class="col" x="986.1" y="1042">36</text><text class="col" x="1011.6" y="1042">35</text><text class="col" x="1037.1" y="1042">34</text><text class="col" x="1062.6" y="1042">33</text><text class="col" x="1088.1" y="1042">32</text><text class="col" x="1113.6" y="1042">31</text><text class="col" x="1139.1" y="1042">30</text><text class="col" x="1164.6" y="1042">29</text><text class="col" x="1190.2" y="1042">28</text><text class="col" x="1215.7" y="1042">27</text><text class="col" x="1241.2" y="1042">26</text><text class="col" x="1266.7" y="1042">25</text><text class="col" x="1292.2" y="1042">24</text><text class="col" x="1317.7" y="1042">23</text><text class="col" x="1343.2" y="1042">22</text><text class="col" x="1368.7" y="1042">21</text><text class="col" x="1394.2" y="1042">20</text><text class="col" x="1419.7" y="1042">19</text><text class="col" x="1445.3" y="1042">18</text><text class="col" x="1470.8" y="1042">17</text><text class="col" x="1496.3" y="1042">16</text><text class="col" x="1521.8" y="1042">15</text><text class="col" x="1547.3" y="1042">14</text><text class="col" x="1572.8" y="1042">13</text><text class="col" x="1598.3" y="1042">12</text><text class="col" x="1623.8" y="1042">11</text><text class="col" x="1649.3" y="1042">10</text><text class="col" x="1674.8" y="1042">9</text><text class="col" x="1700.4" y="1042">8</text><text class="col" x="1725.9" y="1042">7</text><text class="col" x="1751.4" y="1042">6</text><text class="col" x="1776.9" y="1042">5</text><text class="col" x="1802.4" y="1042">4</text><text class="col" x="1827.9" y="1042">3</text><text class="col" x="1853.4" y="1042">2</text><text class="col" x="1878.9" y="1042">1</text>
</g>
</svg>
